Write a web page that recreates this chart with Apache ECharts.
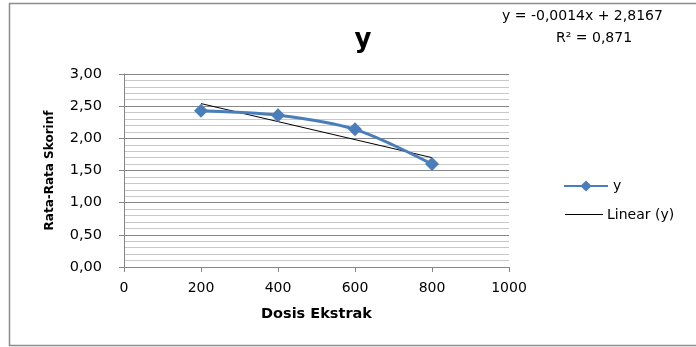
<!DOCTYPE html>
<html>
<head>
<meta charset="utf-8">
<script src="https://cdn.jsdelivr.net/npm/echarts@6/dist/echarts.min.js"></script>
<style>html,body{margin:0;padding:0;background:#fff}#c{width:696px;height:347px}</style>
</head>
<body>
<div id="c"></div>
<script>
const doses = [200, 400, 600, 800];
const scores = [2.43, 2.36, 2.14, 1.60];
const trendX = [200, 800];
const trendY = [2.54, 1.70];
const xTicks = [0, 200, 400, 600, 800, 1000];
const yTicks = ['0,00', '0,50', '1,00', '1,50', '2,00', '2,50', '3,00'];
const seriesName = 'y';
const trendName = 'Linear (y)';
const equation = 'y = -0,0014x + 2,8167';
const rSquared = 'R² = 0,871';

const font = 'DejaVu Sans';
const chart = echarts.init(document.getElementById('c'));
chart.setOption({
  animation: false,
  backgroundColor: '#fff',
  textStyle: { fontFamily: font },
  title: {
    text: 'y', left: 358, top: 22, textAlign: 'center',
    textStyle: { fontFamily: font, fontSize: 26, fontWeight: 'bold', color: '#000' }
  },
  graphic: [
    { type: 'rect', shape: { x: 9.5, y: 3.5, width: 800, height: 342 }, style: { fill: 'none', stroke: '#8c8c8c', lineWidth: 1.5 }, z: 100 },
    { type: 'text', left: 502, top: 9, style: { text: equation, font: '14px "DejaVu Sans"', fill: '#000' } },
    { type: 'text', left: 556, top: 31, style: { text: rSquared, font: '14px "DejaVu Sans"', fill: '#000' } },
    { type: 'line', shape: { x1: 565, y1: 214.5, x2: 603, y2: 214.5 }, style: { stroke: '#000', lineWidth: 1 } },
    { type: 'text', left: 607, top: 208, style: { text: trendName, font: '14px "DejaVu Sans"', fill: '#000' } }
  ],
  legend: {
    orient: 'vertical', left: 558, top: 174, itemGap: 14,
    itemWidth: 44, itemHeight: 14,
    textStyle: { fontFamily: font, fontSize: 14, color: '#000' },
    data: [seriesName]
  },
  grid: { left: 124, right: 187, top: 74, bottom: 80 },
  xAxis: {
    type: 'value', min: 0, max: 1000, interval: 200,
    name: 'Dosis Ekstrak', nameLocation: 'middle', nameGap: 40,
    nameTextStyle: { fontFamily: font, fontSize: 14.5, fontWeight: 'bold', color: '#000' },
    axisLine: { show: true, lineStyle: { color: '#868686' } },
    axisTick: { show: true, length: 5, lineStyle: { color: '#868686' } },
    axisLabel: { fontFamily: font, fontSize: 14, color: '#000', margin: 14,
      formatter: v => xTicks.includes(v) ? String(v) : '' },
    splitLine: { show: false }
  },
  yAxis: {
    type: 'value', min: 0, max: 3, interval: 0.5,
    name: 'Rata-Rata Skorinf', nameLocation: 'middle', nameGap: 68, nameRotate: 90,
    nameTextStyle: { fontFamily: font, fontSize: 12, fontWeight: 'bold', color: '#000' },
    axisLine: { show: true, lineStyle: { color: '#868686' } },
    axisTick: { show: true, length: 5, lineStyle: { color: '#868686' } },
    axisLabel: { fontFamily: font, fontSize: 14.5, color: '#000', margin: 22,
      formatter: v => yTicks[Math.round(v / 0.5)] },
    splitLine: { show: true, lineStyle: { color: '#868686', width: 1 } },
    minorTick: { show: false, splitNumber: 5 },
    minorSplitLine: { show: true, lineStyle: { color: '#c8c8c8', width: 1 } }
  },
  series: [
    {
      name: trendName, type: 'line', symbol: 'none', z: 2,
      data: trendX.map((x, i) => [x, trendY[i]]),
      lineStyle: { color: '#000', width: 1 }, itemStyle: { color: '#000' }
    },
    {
      name: seriesName, type: 'line', smooth: 0.3, z: 3,
      symbol: 'diamond', symbolSize: 14,
      data: doses.map((x, i) => [x, scores[i]]),
      lineStyle: { color: '#4a7ebb', width: 3 }, itemStyle: { color: '#4a7ebb' }
    }
  ]
});
</script>
</body>
</html>
